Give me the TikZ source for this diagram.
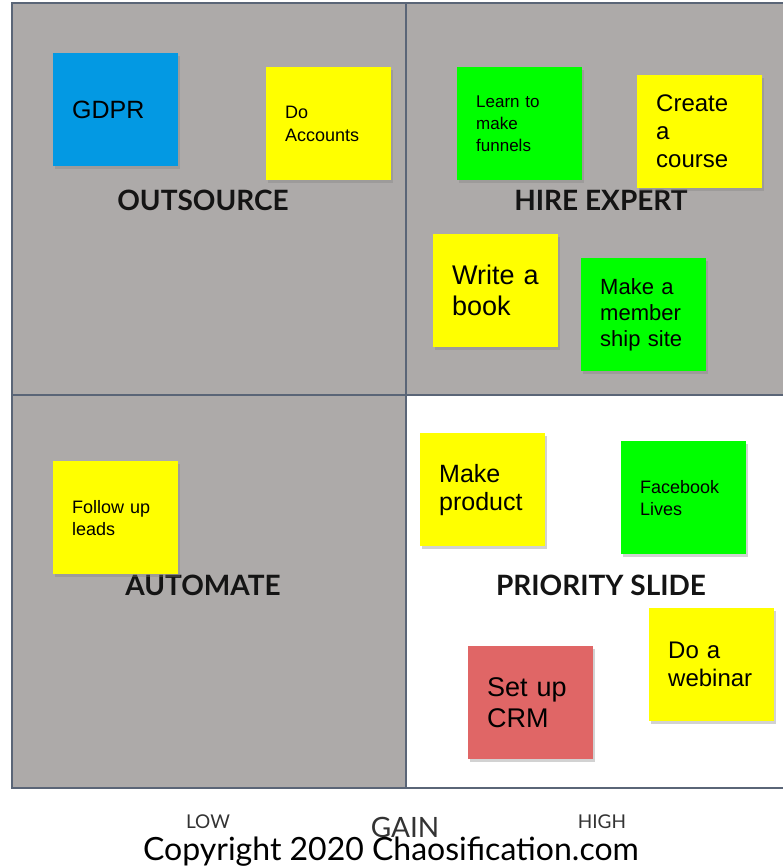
\documentclass[tikz,border=0pt]{standalone}
\usepackage{fontspec}
\setmainfont{Liberation Sans}
\newfontfamily\latofont{Lato}
\usetikzlibrary{shadows}

\definecolor{gridline}{HTML}{5A6577}
\definecolor{quadgrey}{HTML}{ADAAA9}
\definecolor{noteblue}{HTML}{0399E3}
\definecolor{noteyellow}{HTML}{FFFF00}
\definecolor{notegreen}{HTML}{00FF00}
\definecolor{notered}{HTML}{E06666}

\newcommand{\notefont}[2]{\fontsize{#1}{#2}\selectfont}

\tikzset{
  note/.style={rectangle, anchor=north west, minimum width=125pt, minimum height=113pt,
    text width=87pt, inner xsep=19pt, inner ysep=0pt, align=left,
    drop shadow={shadow xshift=2pt, shadow yshift=-3pt, opacity=0.35}},
  quadlabel/.style={font=\latofont\bfseries\fontsize{28}{30}\selectfont, text=black!92},
  axislabel/.style={font=\latofont\fontsize{19}{21}\selectfont, text=black!80, anchor=base},
}

\begin{document}
\begin{tikzpicture}[x=1pt, y=-1pt]
            \useasboundingbox (0,0) rectangle (783,868);
            \clip (0,0) rectangle (783,868);

            % quadrants
            \fill[quadgrey] (12,3) rectangle (406,788);
            \fill[quadgrey] (406,3) rectangle (795,395);
            \fill[white] (406,395) rectangle (795,788);
            \draw[gridline, line width=2.2pt] (12,3) rectangle (795,788);
            \draw[gridline, line width=2.2pt] (406,3) -- (406,788);
            \draw[gridline, line width=2.2pt] (12,395) -- (795,395);

            % quadrant names
            \node[quadlabel] (outsource) at (203,200) {OUTSOURCE};
            \node[quadlabel] (hire) at (601,200) {HIRE EXPERT};
            \node[quadlabel] (automate) at (203,585) {AUTOMATE};
            \node[quadlabel] (priority) at (601,585) {PRIORITY SLIDE};

            % sticky notes
            \node[note, fill=noteblue, font=\notefont{25}{29}] (gdpr) at (53,53) {GDPR};
            \node[note, fill=noteyellow, font=\notefont{18}{23}] (accounts) at (266,67) {Do\\Accounts};
            \node[note, fill=notegreen, font=\notefont{17}{22}] (funnels) at (457,67) {Learn to\\make\\funnels};
            \node[note, fill=noteyellow, font=\notefont{24}{28}] (course) at (637,75) {Create\\a\\course};
            \node[note, fill=noteyellow, font=\notefont{27}{31}] (book) at (433,234) {Write a\\book};
            \node[note, fill=notegreen, font=\notefont{22}{26}] (member) at (581,258) {Make a\\member\\ship site};
            \node[note, fill=noteyellow, font=\notefont{18}{22}] (leads) at (53,461) {Follow up\\leads};
            \node[note, fill=noteyellow, font=\notefont{25}{28}] (product) at (420,433) {Make\\product};
            \node[note, fill=notegreen, font=\notefont{18}{22}] (lives) at (621,441) {Facebook\\Lives};
            \node[note, fill=noteyellow, font=\notefont{24}{28}] (webinar) at (649,608) {Do a\\webinar};
            \node[note, fill=notered, font=\notefont{27}{31}] (crm) at (468,646) {Set up\\CRM};

            % axis
            \node[axislabel] (low) at (208,828) {LOW};
            \node[axislabel, font=\latofont\fontsize{28}{30}\selectfont] (gain) at (405,837) {GAIN};
            \node[axislabel] (high) at (602,828) {HIGH};
            \node[axislabel, font=\latofont\fontsize{32}{34}\selectfont, text=black] (copyright) at (391,860) {Copyright 2020 Chaosification.com};
        \end{tikzpicture}
\end{document}
